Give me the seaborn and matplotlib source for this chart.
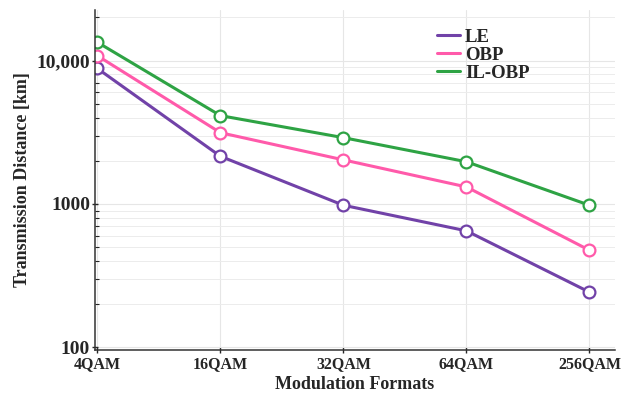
import matplotlib
matplotlib.use("Agg")
import matplotlib.pyplot as plt
import numpy as np
import pandas as pd
import seaborn as sns
from matplotlib.ticker import FuncFormatter, LogLocator, NullFormatter

formats = ["4QAM", "16QAM", "32QAM", "64QAM", "256QAM"]
le = [8800, 2150, 980, 650, 243]
obp = [10800, 3140, 2030, 1315, 476]
il_obp = [13400, 4130, 2900, 1970, 980]

colors = {"LE": "#7142a8", "OBP": "#ff5aaa", "IL-OBP": "#2ea344"}

df = pd.DataFrame({"Format": formats, "LE": le, "OBP": obp, "IL-OBP": il_obp})
long_df = df.melt(id_vars="Format", var_name="Scheme", value_name="Distance")
long_df["x"] = long_df["Format"].map({f: i for i, f in enumerate(formats)})

sns.set_theme(style="white")
plt.rcParams["font.family"] = ["Liberation Serif", "DejaVu Serif"]
plt.rcParams["font.weight"] = "bold"

fig = plt.figure(figsize=(6.33, 4.0), dpi=100)
ax = fig.add_axes([0.150, 0.125, 0.822, 0.85])

sns.lineplot(
    data=long_df, x="x", y="Distance", hue="Scheme", palette=colors,
    linewidth=2.2, marker="o", markersize=8.5, markerfacecolor="white",
    markeredgewidth=1.6, ax=ax, legend=False,
)
for line, name in zip(ax.get_lines(), colors):
    line.set_markeredgecolor(colors[name])
    line.set_label(name)

ax.set_yscale("log")
ax.set_ylim(96, 22500)
ax.set_xlim(-0.02, 4.21)
ax.set_xticks(range(len(formats)))
ax.set_xticklabels(formats, fontsize=11.5, fontweight="bold")
ax.yaxis.set_major_locator(LogLocator(base=10))
ax.yaxis.set_minor_locator(LogLocator(base=10, subs=np.arange(2, 10)))
ax.yaxis.set_minor_formatter(NullFormatter())
ax.yaxis.set_major_formatter(FuncFormatter(lambda v, p: f"{int(v):,}" if v >= 10000 else f"{int(v)}"))
for lab in ax.get_yticklabels():
    lab.set_fontsize(14)
    lab.set_fontweight("bold")

ax.grid(True, which="major", color="#e6e6e6", linewidth=0.8)
ax.grid(True, which="minor", axis="y", color="#ececec", linewidth=0.7)
ax.set_axisbelow(True)

for side in ["top", "right"]:
    ax.spines[side].set_visible(False)
for side in ["left", "bottom"]:
    ax.spines[side].set_color("#333333")
    ax.spines[side].set_linewidth(1.1)

ax.tick_params(axis="y", which="major", direction="inout", length=5, width=1, left=True, pad=1)
ax.tick_params(axis="y", which="minor", direction="in", length=3, width=0.8, left=True)
ax.tick_params(axis="x", which="major", direction="inout", length=5, width=1, bottom=True, pad=2)

ax.set_xlabel("Modulation Formats", fontsize=13, fontweight="bold", labelpad=3)
ax.set_ylabel("Transmission Distance [km]", fontsize=13, fontweight="bold", labelpad=4)

leg = ax.legend(
    loc="upper left", bbox_to_anchor=(0.625, 0.995), frameon=False,
    fontsize=13.5, handlelength=1.2, handletextpad=0.3, labelspacing=0.05,
)
for h in leg.get_lines():
    h.set_marker("")
for t in leg.get_texts():
    t.set_fontweight("bold")

fig.savefig("out.png", dpi=100)
